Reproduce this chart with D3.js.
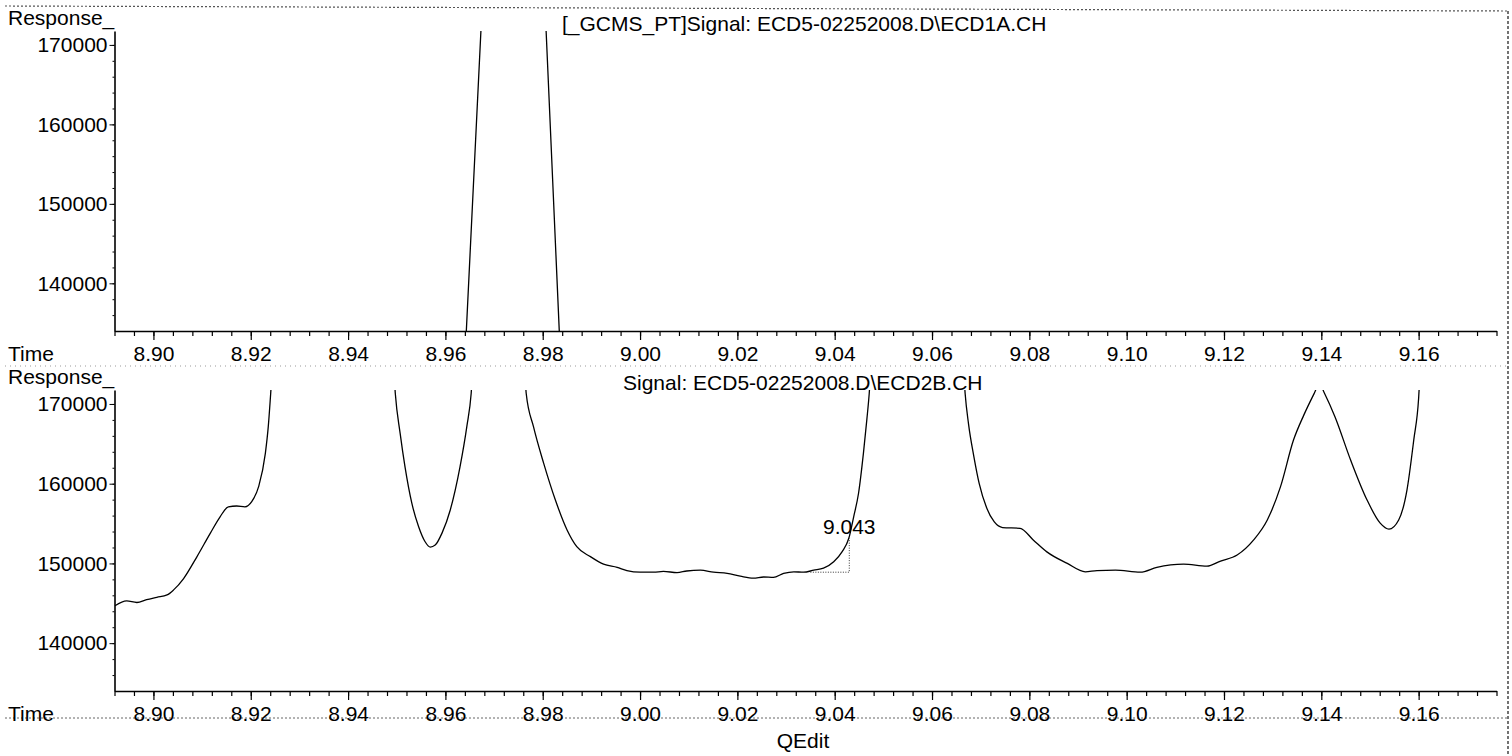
<!DOCTYPE html>
<html>
<head>
<meta charset="utf-8">
<script src="https://cdn.jsdelivr.net/npm/d3@7"></script>
<style>
  html, body { margin: 0; padding: 0; background: #fff; }
  svg { display: block; font-family: "Liberation Sans", Arial, sans-serif; }
</style>
</head>
<body>
<div id="chart"></div>
<script>
// Chromatogram data
const timeRange = [8.892, 9.176];
const responseRange = [134000, 171750];
const timeTicks = [8.90, 8.92, 8.94, 8.96, 8.98, 9.00, 9.02, 9.04, 9.06, 9.08, 9.10, 9.12, 9.14, 9.16];
const responseTicks = [140000, 150000, 160000, 170000];

// ECD1A: only the steep flanks of a big off-scale peak are visible
const ecd1aTime = [8.9641, 8.9675, 8.9805, 8.9836];
const ecd1aResponse = [131500, 174300, 174500, 131200];

// ECD2B
const ecd2bTime = [
    8.8921, 8.8945, 8.8966, 8.8986, 8.9007, 8.9028, 8.9041, 8.9062, 8.9089, 8.9117,
    8.9137, 8.9154, 8.9171, 8.9188, 8.9202, 8.9216, 8.9230, 8.9236, 8.9241, 8.9244,
    8.9494, 8.9497, 8.9507, 8.9517, 8.9531, 8.9545, 8.9558, 8.9569, 8.9579, 8.9593,
    8.9610, 8.9630, 8.9644, 8.9653, 8.9656, 8.9763, 8.9766, 8.9781, 8.9802, 8.9826,
    8.9850, 8.9870, 8.9898, 8.9925, 8.9953, 8.9973, 9.0000, 9.0028, 9.0048, 9.0076,
    9.0096, 9.0124, 9.0151, 9.0179, 9.0206, 9.0233, 9.0254, 9.0274, 9.0295, 9.0316,
    9.0336, 9.0357, 9.0377, 9.0398, 9.0415, 9.0429, 9.0439, 9.0449, 9.0459, 9.0466,
    9.0471, 9.0474, 9.0665, 9.0668, 9.0675, 9.0686, 9.0697, 9.0712, 9.0728, 9.0745,
    9.0781, 9.0808, 9.0836, 9.0878, 9.0915, 9.0939, 9.0977, 9.1028, 9.1062, 9.1117,
    9.1165, 9.1193, 9.1227, 9.1261, 9.1289, 9.1316, 9.1343, 9.1364, 9.1386, 9.1396,
    9.1406, 9.1428, 9.1460, 9.1494, 9.1521, 9.1539, 9.1559, 9.1576, 9.1590, 9.1600,
    9.1603
];
const ecd2bResponse = [
    144700, 145300, 145100, 145450, 145750, 146050, 146650, 148100, 150800, 153800,
    155850, 157100, 157200, 157100, 157750, 159600, 163800, 167150, 171340, 174000,
    174000, 171340, 166300, 162100, 157550, 154600, 152750, 152050, 152300, 153800,
    156700, 162100, 167150, 171340, 174000, 174000, 171340, 167150, 162550, 157950,
    154200, 152100, 150850, 149900, 149500, 149100, 148900, 148900, 149000, 148850,
    149050, 149150, 148900, 148750, 148400, 148150, 148300, 148250, 148750, 148950,
    148900, 149150, 149400, 150200, 151450, 153150, 155850, 158800, 163800, 168000,
    171340, 174000, 174000, 171340, 167500, 163400, 160000, 157000, 155200, 154500,
    154400, 152950, 151450, 150000, 148950, 149100, 149150, 148900, 149500, 149900,
    149650, 150300, 151050, 152950, 155450, 159600, 165500, 168600, 171400, 172600,
    171400, 168400, 163000, 157950, 155050, 154300, 155450, 159200, 165500, 170750,
    174000
];

// integration mark on the ECD2B trace
const markTime = 9.043;
const markBaseline = [9.0350, 148900];
const markTop = 153150;

const width = 1512;
const height = 756;
const fontSize = 21;

const svg = d3.select('#chart')
    .append('svg')
    .attr('width', width)
    .attr('height', height);

const x = d3.scaleLinear().domain(timeRange).range([114.5, 1496.5]);

const minorTimeTicks = d3.range(0, 72).map(function(i) { return +(timeRange[0] + i * 0.004).toFixed(3); })
    .filter(function(t) { return t <= timeRange[1] + 1e-9; });
const minorResponseTicks = d3.range(136000, 171000, 2000);

// page frame leftovers from the printout
svg.append('line')
    .attr('x1', 5).attr('y1', 6).attr('x2', 1508).attr('y2', 11)
    .attr('stroke', '#555').attr('stroke-width', 1.2)
    .attr('stroke-dasharray', '2,2');
svg.append('line')
    .attr('x1', 1508).attr('y1', 11).attr('x2', 1508).attr('y2', 756)
    .attr('stroke', '#444').attr('stroke-width', 1.5)
    .attr('stroke-dasharray', '3,2');
[366, 718].forEach(function(yy, i) {
    svg.append('line')
        .attr('x1', 5).attr('y1', yy).attr('x2', 1508).attr('y2', yy)
        .attr('stroke', i === 0 ? '#999' : '#666').attr('stroke-width', 1)
        .attr('stroke-dasharray', i === 0 ? '1,4' : '2,2');
});

function drawPanel(top, bottom, title, titleX, times, responses, id, curve) {
    const y = d3.scaleLinear().domain(responseRange).range([bottom, top]);

    svg.append('clipPath')
        .attr('id', 'clip-' + id)
        .append('rect')
        .attr('x', x.range()[0])
        .attr('y', top)
        .attr('width', x.range()[1] - x.range()[0])
        .attr('height', bottom - top);

    // x axis, minor then major ticks
    svg.append('g')
        .attr('transform', 'translate(0,' + bottom + ')')
        .call(d3.axisBottom(x).tickValues(minorTimeTicks).tickSize(5).tickSizeOuter(0).tickFormat(''))
        .call(function(g) { g.select('.domain').remove(); })
        .selectAll('line').attr('stroke-width', 1.2);

    const xAxis = svg.append('g')
        .attr('transform', 'translate(0,' + bottom + ')')
        .call(d3.axisBottom(x).tickValues(timeTicks).tickSize(9).tickSizeOuter(0)
            .tickPadding(6).tickFormat(d3.format('.2f')));
    xAxis.select('.domain').attr('stroke-width', 1.6);
    xAxis.selectAll('line').attr('stroke-width', 1.2);
    xAxis.selectAll('text')
        .attr('font-size', fontSize + 'px')
        .attr('font-family', '"Liberation Sans", Arial, sans-serif')
        .attr('fill', '#000');

    // y axis
    svg.append('g')
        .attr('transform', 'translate(' + x.range()[0] + ',0)')
        .call(d3.axisLeft(y).tickValues(minorResponseTicks).tickSize(2).tickSizeOuter(0).tickFormat(''))
        .call(function(g) { g.select('.domain').remove(); });

    const yAxis = svg.append('g')
        .attr('transform', 'translate(' + x.range()[0] + ',0)')
        .call(d3.axisLeft(y).tickValues(responseTicks).tickSize(5).tickSizeOuter(0)
            .tickPadding(2).tickFormat(d3.format('d')));
    yAxis.select('.domain').attr('stroke-width', 1.6);
    yAxis.selectAll('text')
        .attr('font-size', fontSize + 'px')
        .attr('font-family', '"Liberation Sans", Arial, sans-serif')
        .attr('fill', '#000');

    // labels
    svg.append('text')
        .attr('x', 8).attr('y', top - 6)
        .attr('font-size', fontSize + 'px')
        .text('Response_');
    svg.append('text')
        .attr('x', 8).attr('y', bottom + 30)
        .attr('font-size', fontSize + 'px')
        .text('Time');
    svg.append('text')
        .attr('x', titleX).attr('y', top)
        .attr('font-size', fontSize + 'px')
        .text(title);

    // trace
    const pts = times.map(function(t, i) { return [t, responses[i]]; });
    const line = d3.line()
        .x(function(d) { return x(d[0]); })
        .y(function(d) { return y(d[1]); })
        .curve(curve);

    svg.append('path')
        .datum(pts)
        .attr('clip-path', 'url(#clip-' + id + ')')
        .attr('fill', 'none')
        .attr('stroke', '#000')
        .attr('stroke-width', 1.3)
        .attr('d', line);

    return y;
}

drawPanel(31, 331, '[_GCMS_PT]Signal: ECD5-02252008.D\\ECD1A.CH', 562, ecd1aTime, ecd1aResponse, 'a', d3.curveLinear);
const y2 = drawPanel(390, 691, 'Signal: ECD5-02252008.D\\ECD2B.CH', 623, ecd2bTime, ecd2bResponse, 'b', d3.curveMonotoneX);

// retention time mark at 9.043
svg.append('path')
    .attr('d', d3.line()([
        [x(markBaseline[0]), y2(markBaseline[1])],
        [x(markTime), y2(markBaseline[1])],
        [x(markTime), y2(markTop)]
    ]))
    .attr('fill', 'none')
    .attr('stroke', '#333')
    .attr('stroke-width', 1)
    .attr('stroke-dasharray', '1,1.5');

svg.append('text')
    .attr('x', x(markTime))
    .attr('y', y2(markTop) - 4)
    .attr('text-anchor', 'middle')
    .attr('font-size', fontSize + 'px')
    .text(d3.format('.3f')(markTime));

svg.append('text')
    .attr('x', 803).attr('y', 748)
    .attr('text-anchor', 'middle')
    .attr('font-size', fontSize + 'px')
    .text('QEdit');
</script>
</body>
</html>
